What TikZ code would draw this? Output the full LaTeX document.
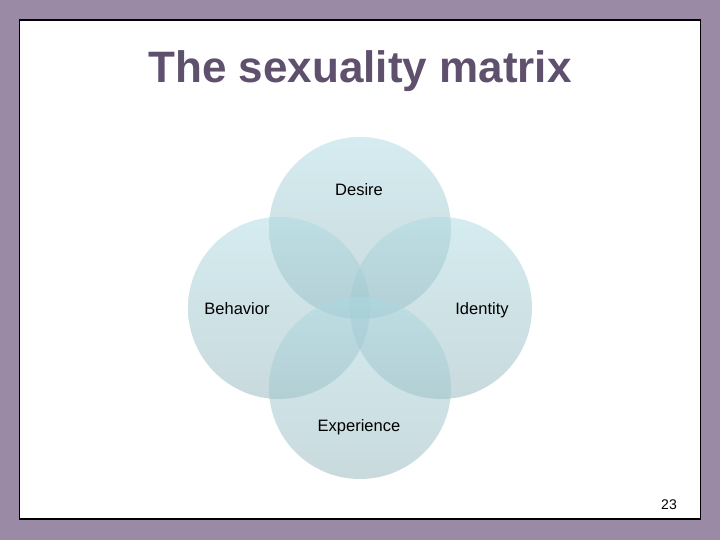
\documentclass[tikz,border=0pt]{standalone}
\usepackage{fontspec}
\setmainfont{Liberation Sans}
\definecolor{bgpurple}{RGB}{155,138,166}
\definecolor{titlecol}{RGB}{95,80,110}
\definecolor{venntop}{RGB}{172,218,226}
\definecolor{vennbot}{RGB}{148,182,188}
\tikzset{
  venn/.style={circle, draw=none, minimum size=182pt, inner sep=0pt,
    top color=venntop, bottom color=vennbot, fill opacity=0.5},
  lbl/.style={anchor=base, font=\fontsize{16.5}{19}\selectfont, text=black, inner sep=0pt},
}
\begin{document}
\begin{tikzpicture}[x=1pt,y=-1pt]
\useasboundingbox (0,0) rectangle (720,540);
\fill[bgpurple] (0,0) rectangle (720,540);
\node[draw=black, line width=1.5pt, fill=white, minimum width=681pt, minimum height=499pt, inner sep=0pt] (slide) at (360,269.5) {};
\node[anchor=base, text=titlecol, font=\fontsize{44}{50}\selectfont\bfseries, inner sep=0pt] (title) at (360,83) {The sexuality matrix};
\node[venn] (desire) at (360,228) {};
\node[venn] (behavior) at (279,308) {};
\node[venn] (identity) at (441,308) {};
\node[venn] (experience) at (360,388) {};
\node[lbl] (desireL) at (359,196) {Desire};
\node[lbl] (behaviorL) at (237,314) {Behavior};
\node[lbl] (identityL) at (482,314) {Identity};
\node[lbl] (experienceL) at (359,431) {Experience};
\node[anchor=base, font=\fontsize{14}{16}\selectfont, inner sep=0pt] (page) at (669,509) {23};
\end{tikzpicture}
\end{document}
